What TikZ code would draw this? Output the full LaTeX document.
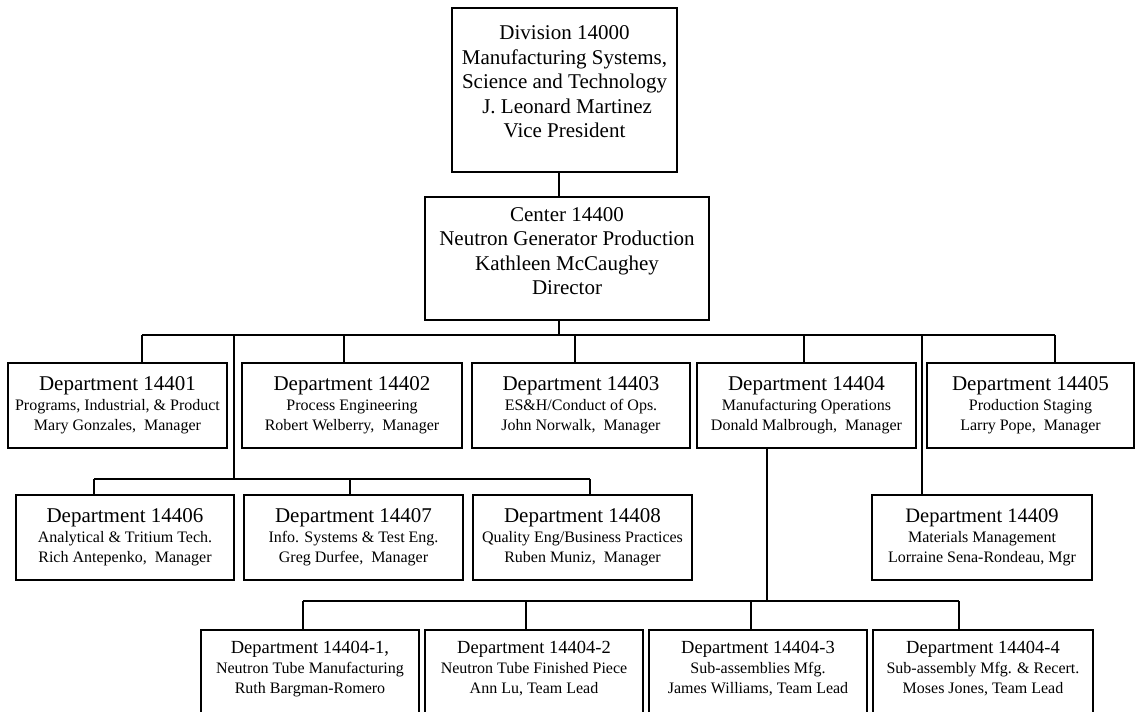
\documentclass[tikz,border=0pt]{standalone}
\usepackage{fontspec}
\setmainfont{Liberation Serif}

% a unit box given by its corners (x1,y1) and (x2,y2)
\newcommand\orgbox[5]{%
  \node[box, minimum width={(#4)-(#2)}, minimum height={(#5)-(#3)}]
    (#1) at ({((#2)+(#4))/2},{((#3)+(#5))/2}) {};}

\begin{document}
\begin{tikzpicture}[x=1pt, y=-1pt,
  box/.style={draw=black, line width=1.8pt, inner sep=0pt, outer sep=0pt},
  link/.style={draw=black, line width=1.3pt},
  txt/.style={align=center, inner sep=0pt},
  bigtxt/.style={txt, font=\fontsize{21}{24.5}\selectfont},
  unittxt/.style={txt, font=\fontsize{16}{20}\selectfont}]
\useasboundingbox (0,0) rectangle (1136,712);
\fill[white] (0,0) rectangle (1136,712);

% ---- boxes ----
\orgbox{div}{452}{8}{677}{172}
\orgbox{ctr}{425}{197}{709}{320}

\orgbox{d401}{8}{363}{227}{448}
\orgbox{d402}{242}{363}{462}{448}
\orgbox{d403}{472}{363}{690}{448}
\orgbox{d404}{697}{363}{916}{448}
\orgbox{d405}{927}{363}{1134}{448}

\orgbox{d406}{16}{495}{234}{580}
\orgbox{d407}{244}{495}{463}{580}
\orgbox{d408}{473}{495}{692}{580}
\orgbox{d409}{872}{495}{1092}{580}

\orgbox{t1}{201}{630}{419}{718}
\orgbox{t2}{425}{630}{643}{718}
\orgbox{t3}{649}{630}{867}{718}
\orgbox{t4}{873}{630}{1093}{718}

% ---- texts ----
\node[bigtxt] (l-div) at (564.5,82) {Division 14000\\Manufacturing Systems,\\Science and Technology\\\ J. Leonard Martinez\\Vice President};
\node[bigtxt] (l-ctr) at (567,251) {Center 14400\\Neutron Generator Production\\Kathleen McCaughey\\Director};

\node[unittxt] (l401) at (d401) {{\fontsize{21}{22}\selectfont Department 14401}\\Programs, Industrial, \& Product\\Mary Gonzales,\ \ Manager};
\node[unittxt] (l402) at (d402) {{\fontsize{21}{22}\selectfont Department 14402}\\Process Engineering\\Robert Welberry,\ \ Manager};
\node[unittxt] (l403) at (d403) {{\fontsize{21}{22}\selectfont Department 14403}\\ES\&H/Conduct of Ops.\\John Norwalk,\ \ Manager};
\node[unittxt] (l404) at (d404) {{\fontsize{21}{22}\selectfont Department 14404}\\Manufacturing Operations\\Donald Malbrough,\ \ Manager};
\node[unittxt] (l405) at (d405) {{\fontsize{21}{22}\selectfont Department 14405}\\Production Staging\\Larry Pope,\ \ Manager};

\node[unittxt] (l406) at (d406) {{\fontsize{21}{22}\selectfont Department 14406}\\Analytical \& Tritium Tech.\\Rich Antepenko,\ \ Manager};
\node[unittxt] (l407) at (d407) {{\fontsize{21}{22}\selectfont Department 14407}\\Info. Systems \& Test Eng.\\Greg Durfee,\ \ Manager};
\node[unittxt] (l408) at (d408) {{\fontsize{21}{22}\selectfont Department 14408}\\Quality Eng/Business Practices\\Ruben Muniz,\ \ Manager};
\node[unittxt] (l409) at (d409) {{\fontsize{20.5}{22}\selectfont Department 14409}\\Materials Management\\Lorraine Sena-Rondeau, Mgr};

\node[unittxt] (lt1) at (310,669) {{\fontsize{18.5}{20}\selectfont Department 14404-1,}\\Neutron Tube Manufacturing\\Ruth Bargman-Romero};
\node[unittxt] (lt2) at (534,669) {{\fontsize{18.5}{20}\selectfont Department 14404-2}\\Neutron Tube Finished Piece\\Ann Lu, Team Lead};
\node[unittxt] (lt3) at (758,669) {{\fontsize{18.5}{20}\selectfont Department 14404-3}\\Sub-assemblies Mfg.\\James Williams, Team Lead};
\node[unittxt] (lt4) at (983,669) {{\fontsize{18.5}{20}\selectfont Department 14404-4}\\Sub-assembly Mfg. \& Recert.\\Moses Jones, Team Lead};

% ---- junction points ----
\coordinate (jc)  at (559,335);
\coordinate (j401) at (142,335);
\coordinate (j402) at (344,335);
\coordinate (j403) at (575,335);
\coordinate (j404) at (804,335);
\coordinate (j405) at (1055,335);
\coordinate (jl)  at (234,335);
\coordinate (jr)  at (922,335);
\coordinate (jr2) at (922,478);

\coordinate (s406) at (94,479);
\coordinate (s407) at (350,479);
\coordinate (s408) at (590,479);
\coordinate (sl)   at (234,479);

\coordinate (bj)  at (767,601);
\coordinate (b1)  at (303,601);
\coordinate (b2)  at (526,601);
\coordinate (b3)  at (751,601);
\coordinate (b4)  at (959,601);

% ---- connectors ----
\draw[link] (div.south -| jc) -- (ctr.north -| jc);
\draw[link] (ctr.south -| jc) -- (jc);
\draw[link] (j401) -- (j405);
\foreach \j/\d in {j401/d401, j402/d402, j403/d403, j404/d404, j405/d405}
  \draw[link] (\j) -- (\j |- \d.north);

\draw[link] (jl) -- (sl);
\draw[link] (s406) -- (s408);
\foreach \j/\d in {s406/d406, s407/d407, s408/d408}
  \draw[link] (\j) -- (\j |- \d.north);

\draw[link] (jr) -- (jr |- d409.north);
\draw[draw=black, line width=2.4pt] (jr) -- (jr2);

\draw[link] (d404.south -| bj) -- (bj);
\draw[link] (b1) -- (b4);
\foreach \j/\d in {b1/t1, b2/t2, b3/t3, b4/t4}
  \draw[link] (\j) -- (\j |- \d.north);
\end{tikzpicture}
\end{document}
